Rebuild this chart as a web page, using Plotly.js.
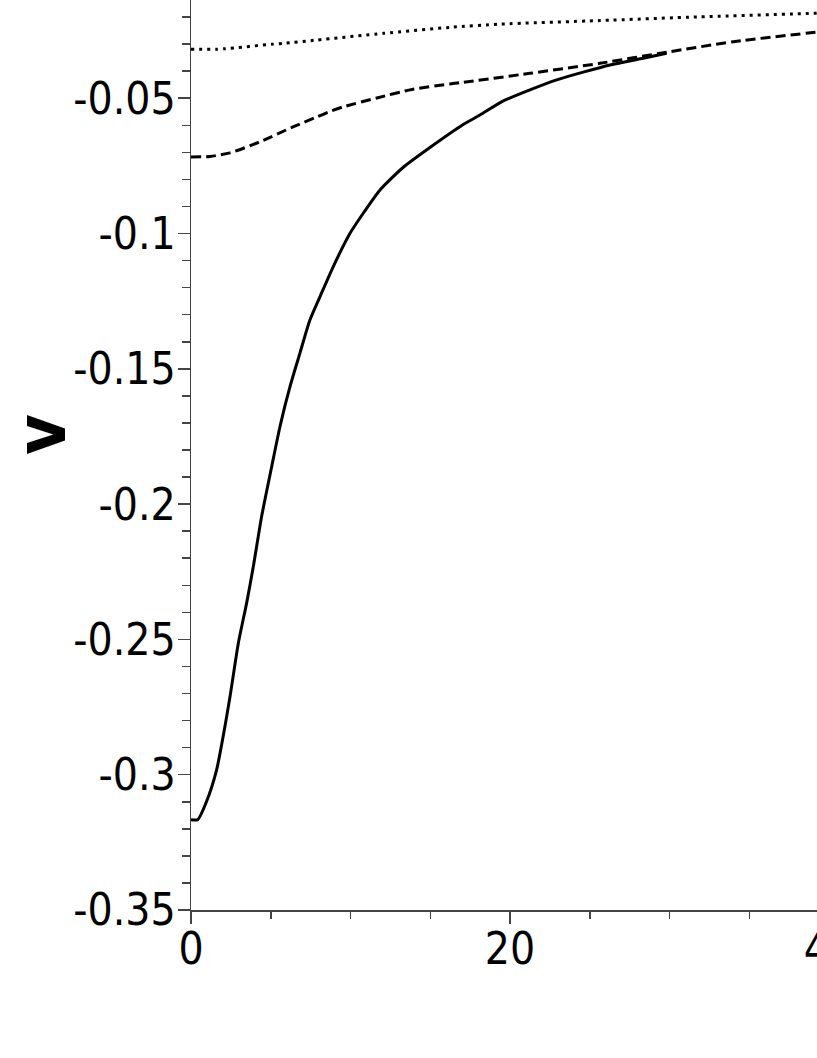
<!DOCTYPE html>
<html>
<head>
<meta charset="utf-8">
<script src="https://cdn.plot.ly/plotly-3.0.1.min.js"></script>
<style>
html,body{margin:0;padding:0;overflow:hidden;background:#fff;width:817px;height:1058px;}
#plot{position:absolute;left:0;top:-40px;width:1000px;height:1098px;}
</style>
</head>
<body>
<div id="plot"></div>
<script>
// Solid curve
var solidX = [0, 0.42, 0.98, 1.61, 2.13, 2.45, 2.97, 3.49, 3.91, 4.43, 5.06, 5.58, 6.21, 6.83, 7.46, 8.09, 8.92, 9.97, 10.80, 11.85, 13.31, 14.98, 17.07, 18.12, 19.58, 21.25, 22.93, 26.27, 28.36, 29.82];
var solidV = [-0.3166, -0.3166, -0.3098, -0.2981, -0.2821, -0.2710, -0.2513, -0.2365, -0.2230, -0.2045, -0.1861, -0.1713, -0.1565, -0.1442, -0.1319, -0.1233, -0.1122, -0.0999, -0.0925, -0.0839, -0.0755, -0.0682, -0.0597, -0.0562, -0.0510, -0.0469, -0.0432, -0.0377, -0.0352, -0.0334];
// Dashed curve
var dashX = [0, 1.2, 2.45, 4.33, 6.39, 7.90, 8.71, 9.53, 11.66, 13.73, 16.24, 17.07, 21.25, 25.64, 29.82, 34.0, 39.23, 41.0];
var dashV = [-0.0717, -0.0715, -0.0702, -0.0661, -0.0606, -0.0569, -0.0549, -0.0532, -0.0499, -0.0469, -0.0447, -0.0441, -0.0408, -0.0371, -0.0330, -0.0291, -0.0256, -0.0248];
// Dotted curve
var dotX = [0, 1.61, 2.13, 5.16, 5.77, 7.88, 12.06, 16.24, 19.37, 25.64, 31.91, 39.23, 41.0];
var dotV = [-0.0319, -0.0319, -0.0317, -0.0300, -0.0297, -0.0285, -0.0260, -0.0238, -0.0226, -0.0213, -0.0199, -0.0186, -0.0183];

var yTickVals = [-0.35, -0.3, -0.25, -0.2, -0.15, -0.1, -0.05];
var yTickText = ['-0.35', '-0.3', '-0.25', '-0.2', '-0.15', '-0.1', '-0.05'];
var xTickVals = [0, 20, 40];
var xTickText = ['0', '20', '40'];
var yTitle = 'v';

var FONT = '"DejaVu Sans Condensed", "Liberation Sans", sans-serif';

var traces = [
  {x: solidX, y: solidV, mode: 'lines', line: {color: '#000', width: 3, shape: 'spline', smoothing: 0.6}, hoverinfo: 'skip'},
  {x: dashX, y: dashV, mode: 'lines', line: {color: '#000', width: 3, dash: '10px,5px', shape: 'spline', smoothing: 0.6}, hoverinfo: 'skip'},
  {x: dotX, y: dotV, mode: 'lines', line: {color: '#000', width: 3, dash: '3px,5px', shape: 'spline', smoothing: 0.6}, hoverinfo: 'skip'}
];

var layout = {
  width: 1000,
  height: 1098,
  margin: {l: 191, r: 0, t: 0, b: 147.5},
  paper_bgcolor: '#fff',
  plot_bgcolor: '#fff',
  showlegend: false,
  font: {family: FONT, color: '#000'},
  xaxis: {
    range: [0, 809 / 15.95],
    showgrid: false,
    zeroline: false,
    showline: true,
    linecolor: '#444',
    linewidth: 1.5,
    ticks: 'outside',
    ticklen: 12,
    tickwidth: 1.5,
    tickcolor: '#444',
    tickmode: 'array',
    tickvals: xTickVals,
    ticktext: xTickText,
    ticklabelstandoff: -12,
    tickfont: {family: FONT, size: 44, color: '#000'},
    minor: {dtick: 5, tick0: 0, ticks: 'outside', ticklen: 7, tickwidth: 1.5, tickcolor: '#444', showgrid: false}
  },
  yaxis: {
    range: [-0.35, -0.35 + 950.5 / 2707.3],
    showgrid: false,
    zeroline: false,
    showline: true,
    linecolor: '#444',
    linewidth: 1.5,
    ticks: 'outside',
    ticklen: 12,
    tickwidth: 1.5,
    tickcolor: '#444',
    tickmode: 'array',
    tickvals: yTickVals,
    ticktext: yTickText,
    ticklabelstandoff: -7,
    tickfont: {family: FONT, size: 44, color: '#000'},
    minor: {dtick: 0.01, tick0: 0, ticks: 'outside', ticklen: 8, tickwidth: 1.5, tickcolor: '#444', showgrid: false}
  },
  annotations: [{
    text: yTitle,
    xref: 'paper', yref: 'paper',
    x: (41 - 191) / 809, y: 0.5,
    xanchor: 'center', yanchor: 'middle',
    textangle: -90,
    showarrow: false,
    font: {family: FONT, size: 70, color: '#000', weight: 'bold'}
  }]
};

Plotly.newPlot('plot', traces, layout, {staticPlot: true, displayModeBar: false});
</script>
</body>
</html>
